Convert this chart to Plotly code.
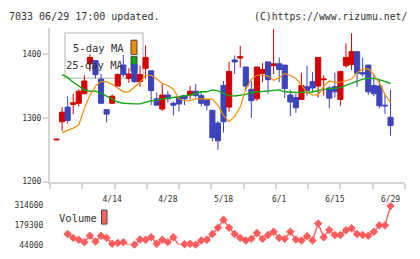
import plotly.graph_objects as go

W, H = 420, 259

dates = ["3/31", "4/1", "4/4", "4/5", "4/6", "4/7", "4/8", "4/11", "4/12", "4/13",
         "4/14", "4/15", "4/18", "4/19", "4/20", "4/21", "4/22", "4/25", "4/26", "4/27",
         "4/28", "5/2", "5/6", "5/9", "5/10", "5/11", "5/12", "5/13", "5/16", "5/17",
         "5/18", "5/19", "5/20", "5/23", "5/24", "5/25", "5/26", "5/27", "5/30", "5/31",
         "6/1", "6/2", "6/3", "6/6", "6/7", "6/8", "6/9", "6/10", "6/13", "6/14",
         "6/15", "6/16", "6/17", "6/20", "6/21", "6/22", "6/23", "6/24", "6/27", "6/28",
         "6/29"]

open_ = [1265.5, 1294, 1317, 1321, 1323, 1338, 1385, 1390, 1361, 1313,
         1323, 1350, 1383, 1362, 1384, 1357, 1378, 1374, 1330, 1314,
         1336, 1323, 1333, 1335, 1336, 1342, 1335, 1329, 1312, 1292,
         1351, 1317, 1391, 1394, 1380, 1345, 1330, 1370, 1388, 1382,
         1385, 1383, 1336, 1332, 1329, 1349, 1357, 1350, 1360, 1347,
         1349, 1329, 1382, 1384, 1404, 1371, 1383, 1351, 1350, 1320,
         1301]
high = [1267, 1317, 1334, 1338, 1345, 1367, 1400, 1390, 1369, 1313,
        1337, 1370, 1399, 1378, 1384, 1382, 1414, 1374, 1340, 1353,
        1342, 1326, 1333, 1336, 1350, 1353, 1340, 1329, 1312, 1295,
        1358, 1388, 1398, 1413, 1380, 1358, 1380, 1386, 1388, 1440,
        1395, 1383, 1344, 1338, 1371, 1382, 1372, 1395, 1367, 1350,
        1371, 1374, 1417, 1433, 1404, 1395, 1383, 1369, 1360, 1337,
        1344]
low = [1265, 1280, 1291, 1306, 1318, 1338, 1373, 1362, 1323, 1293,
       1323, 1350, 1364, 1355, 1355, 1349, 1362, 1320, 1320, 1311,
       1324, 1304, 1310, 1320, 1329, 1332, 1318, 1312, 1263, 1250,
       1277, 1310, 1369, 1379, 1342, 1300, 1327, 1356, 1338, 1369,
       1356, 1331, 1303, 1308, 1329, 1335, 1340, 1332, 1335, 1315,
       1332, 1319, 1379, 1375, 1349, 1365, 1336, 1334, 1315, 1306,
       1272]
close = [1266.5, 1309, 1296, 1324, 1342, 1358, 1395, 1368, 1323, 1306,
         1334, 1368, 1368, 1369, 1357, 1368, 1395, 1343, 1320, 1336,
         1330, 1320, 1322, 1330, 1342, 1335, 1323, 1320, 1269, 1264,
         1294, 1373, 1388, 1396, 1350, 1327, 1380, 1376, 1360, 1385,
         1376, 1346, 1325, 1316, 1351, 1343, 1347, 1395, 1361, 1331,
         1341, 1373, 1395, 1404, 1370, 1369, 1341, 1338, 1319, 1319,
         1288]

ma5 = [None, 1277, 1280, 1284, 1289, 1315, 1335, 1350, 1357, 1357,
       1353, 1347, 1341, 1341, 1348, 1356, 1367, 1367, 1361, 1354,
       1351, 1345, 1330, 1327, 1327, 1330, 1330, 1330, 1329, 1320,
       1304, 1294, 1302, 1317, 1345, 1361, 1367, 1367, 1366, 1359,
       1363, 1370, 1367, 1362, 1352, 1340, 1336, 1336, 1350, 1358,
       1356, 1356, 1359, 1361, 1371, 1377, 1377, 1368, 1355, 1337,
       1324]
ma25 = [None, 1368, 1363.6, 1356, 1350, 1344, 1342, 1342, 1339, 1334,
        1330, 1325, 1323, 1322, 1322, 1322, 1324, 1327, 1327.5, 1330,
        1331, 1332, 1333, 1334, 1336, 1338, 1341, 1341, 1344, 1342.5,
        1339, 1335, 1334.5, 1336, 1337, 1340, 1341, 1341.5, 1342, 1343,
        1344, 1341, 1340, 1340, 1340.5, 1340, 1341, 1343, 1345, 1346,
        1346.5, 1347.5, 1351, 1354, 1358, 1361, 1362.5, 1362, 1360, 1357,
        1354]
volume = [None, None, 118000, 91800, 78500, 62600, 107000, 67200, 107000, 91800,
          52000, 55900, 62600, 40700, 45300, 80500, 78500, 95700, 52000, 78500,
          62600, 95700, 40700, 47300, 52000, 45300, 73800, 78500, 118000, 162000,
          217000, 162000, 118000, 91800, 73800, 85000, 125000, 85000, 111600, 133500,
          91800, 85000, 133500, 80500, 73800, 102400, 73800, 191000, 95700, 146800,
          111600, 111600, 144800, 158000, 118000, 111600, 107000, 133500, 178000, 178000,
          310600]

price_ticks = [1200, 1300, 1400]
volume_ticks = [44000, 179300, 314600]
date_labels = ["4/14", "4/28", "5/18", "6/1", "6/15", "6/29"]

title_left = "7033 06/29 17:00 updated."
title_right = "(C)https://www.rizumu.net/"

idx = list(range(len(dates)))

# ---- pixel helpers for layout (paper coordinates) ----
def px(x):
    return x / W

def py(y):
    return 1 - y / H

RED = "#d40000"
BLUE = "#3c44bc"
ORANGE = "#f08c00"
GREEN = "#12a812"
VOL = "#ff5c5c"
AXIS = "#d6d6d6"
TXT = "#333333"
MONO = "DejaVu Sans Mono"

x_lo, x_hi = -1.17, 62.6
n_minor = 11
minor_ticks = [x_lo + k * (x_hi - x_lo) / n_minor for k in range(n_minor + 1)]
label_vals = [dates.index(d) for d in date_labels]

fig = go.Figure()

fig.add_trace(go.Scatter(x=idx, y=ma25, mode="lines", line=dict(color=GREEN, width=1.4),
                         xaxis="x", yaxis="y", hoverinfo="skip", showlegend=False))
fig.add_trace(go.Scatter(x=idx, y=ma5, mode="lines", line=dict(color=ORANGE, width=1.2),
                         xaxis="x", yaxis="y", hoverinfo="skip", showlegend=False))
fig.add_trace(go.Candlestick(
    x=idx, open=open_, high=high, low=low, close=close,
    increasing=dict(line=dict(color=RED, width=1), fillcolor=RED),
    decreasing=dict(line=dict(color=BLUE, width=1), fillcolor=BLUE),
    whiskerwidth=0, xaxis="x", yaxis="y", showlegend=False))
fig.add_trace(go.Scatter(x=idx, y=volume, mode="lines+markers",
                         line=dict(color=VOL, width=1.4),
                         marker=dict(symbol="diamond", size=6.5, color=VOL),
                         cliponaxis=False, xaxis="x2", yaxis="y2", showlegend=False))

dom_x = [px(50), px(405)]

fig.update_layout(
    width=W, height=H, autosize=False,
    margin=dict(l=0, r=0, t=0, b=0, pad=0),
    paper_bgcolor="white", plot_bgcolor="white",
    showlegend=False, boxgap=0.08, boxgroupgap=0,
    xaxis=dict(domain=dom_x, range=[x_lo, x_hi], anchor="y",
               showgrid=False, zeroline=False, showline=True, linecolor=AXIS, linewidth=2,
               ticks="outside", ticklen=5, tickwidth=1.5, tickcolor=AXIS,
               tickmode="array", tickvals=minor_ticks, showticklabels=False,
               rangeslider=dict(visible=False), fixedrange=True),
    xaxis3=dict(overlaying="x", matches="x", anchor="y", side="bottom",
                showgrid=False, zeroline=False, showline=False,
                ticks="outside", ticklen=10, tickcolor="rgba(0,0,0,0)",
                tickmode="array", tickvals=label_vals, ticktext=date_labels,
                tickfont=dict(family=MONO, size=8, color=TXT)),
    yaxis=dict(domain=[py(184), py(25)], range=[1200, 1441], anchor="x",
               showgrid=False, zeroline=False, showline=True, linecolor=AXIS, linewidth=2,
               ticks="outside", ticklen=5, tickwidth=1.5, tickcolor=AXIS,
               tickmode="array", tickvals=price_ticks,
               tickfont=dict(family=MONO, size=8, color=TXT)),
    xaxis2=dict(domain=dom_x, range=[x_lo, x_hi], anchor="y2", visible=False),
    yaxis2=dict(domain=[py(249.5), py(208.8)], range=[44000, 314600], anchor="x2",
                showgrid=False, zeroline=False, showline=False,
                ticks="outside", ticklen=4, tickcolor="rgba(0,0,0,0)",
                tickmode="array", tickvals=volume_ticks,
                ticktext=[str(v) for v in volume_ticks],
                tickfont=dict(family=MONO, size=8, color=TXT)),
)

# dummy trace so overlay axis xaxis3 is rendered
fig.add_trace(go.Scatter(x=[idx[0]], y=[None], xaxis="x3", yaxis="y", showlegend=False,
                         hoverinfo="skip"))

shapes = [
    dict(type="rect", xref="paper", yref="paper", x0=px(65), x1=px(143), y0=py(77), y1=py(30),
         line=dict(color="#cccccc", width=1.5), fillcolor="white", layer="below"),
    dict(type="rect", xref="paper", yref="paper", x0=px(131), x1=px(137), y0=py(52.5), y1=py(37.5),
         line=dict(color="#444444", width=1), fillcolor=ORANGE, layer="below"),
    dict(type="rect", xref="paper", yref="paper", x0=px(131), x1=px(137), y0=py(69.5), y1=py(54.5),
         line=dict(color="#444444", width=1), fillcolor=GREEN, layer="below"),
    dict(type="rect", xref="paper", yref="paper", x0=px(101.5), x1=px(107), y0=py(228), y1=py(213.5),
         line=dict(color="#444444", width=1), fillcolor="#ff6060", layer="above"),
]
fig.update_layout(shapes=shapes)

def ann(text, x, y, xanchor, size):
    return dict(text=text, xref="paper", yref="paper", x=px(x), y=py(y),
                xanchor=xanchor, yanchor="middle", showarrow=False,
                font=dict(family=MONO, size=size, color=TXT))

fig.update_layout(annotations=[
    ann(title_left, 7, 12.5, "left", 10),
    ann(title_right, 409, 12.5, "right", 9.8),
    ann("5-day MA", 126, 46, "right", 10.5),
    ann("25-day MA", 126, 63, "right", 10.5),
    ann("Volume", 57, 222, "left", 10.5),
])

fig.write_html("out.html")
